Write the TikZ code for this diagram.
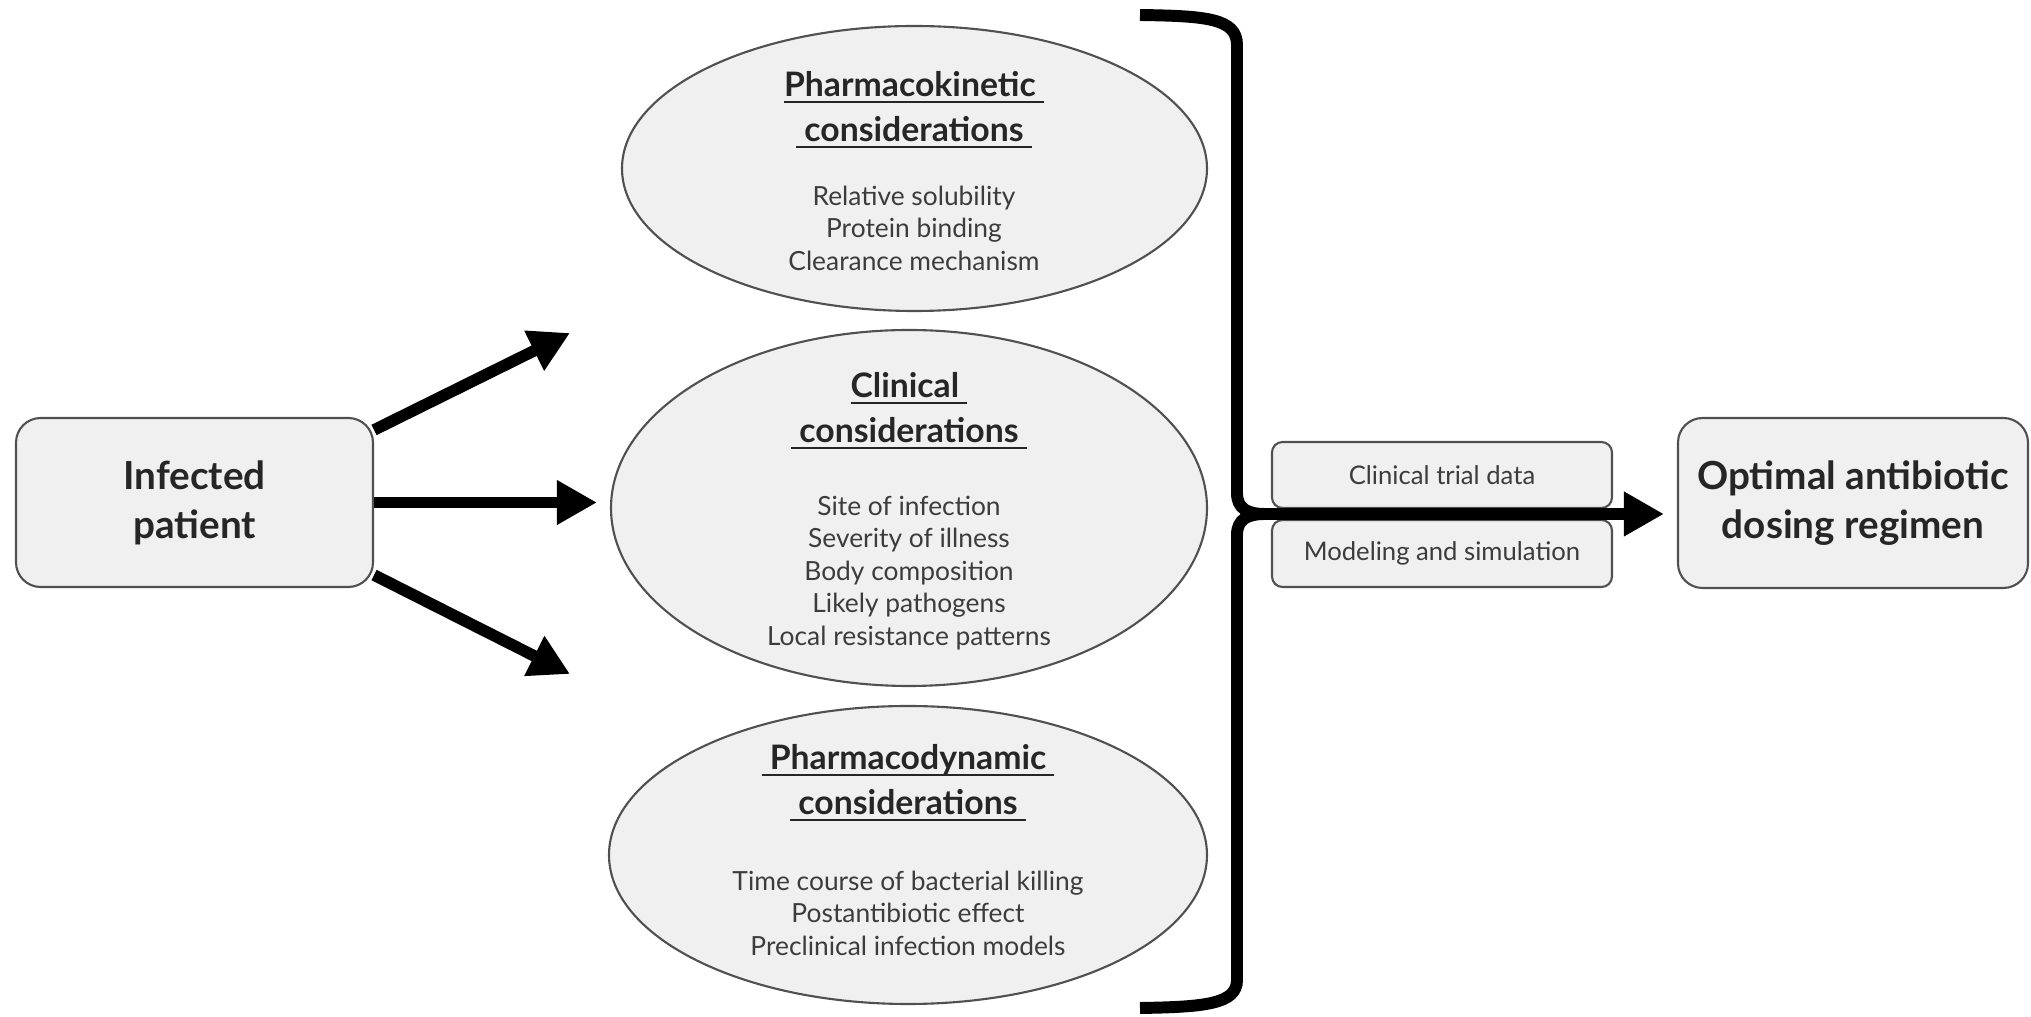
\documentclass[tikz,border=0pt]{standalone}
\usepackage{fontspec}
\setmainfont{Lato}
\usepackage{tikz}
\usetikzlibrary{shapes.geometric, arrows.meta, positioning, calc}
\definecolor{boxfill}{RGB}{240,240,240}
\definecolor{edgegray}{RGB}{80,80,80}
\definecolor{itemgray}{RGB}{60,60,60}
\newcommand{\ulhead}[1]{\underline{\smash{#1}}}

\begin{document}
\begin{tikzpicture}[
        box/.style={rectangle, rounded corners=7pt, draw=edgegray, fill=boxfill, line width=0.6pt, font=\fontsize{11}{14}\selectfont\bfseries, text=black!85, align=center},
        databox/.style={rectangle, rounded corners=3pt, draw=edgegray, fill=boxfill, line width=0.6pt, font=\fontsize{7.3}{9}\selectfont, text=itemgray, minimum width=3.4cm, align=center},
        oval/.style={ellipse, draw=edgegray, fill=boxfill, line width=0.6pt},
        heading/.style={font=\fontsize{9.6}{12.8}\selectfont\bfseries, text=black!85, align=center},
        items/.style={font=\fontsize{7.5}{9.25}\selectfont, text=itemgray, align=center},
        fat/.style={line width=3.3pt, -{Triangle[length=0.4cm, width=0.42cm]}}
    ]
        \useasboundingbox (0,0) rectangle (20.31,-10.17);

        % Patient and result boxes
        \node[box, minimum width=3.57cm, minimum height=1.69cm] (patient) at (1.945,-5.025) {Infected\\patient};
        \node[box, minimum width=3.50cm, minimum height=1.70cm] (optimal) at (18.53,-5.03) {Optimal antibiotic\\dosing regimen};

        % Considerations
        \node[oval, minimum width=5.85cm, minimum height=2.85cm] (pk) at (9.145,-1.685) {};
        \node[oval, minimum width=5.96cm, minimum height=3.56cm] (clin) at (9.09,-5.08) {};
        \node[oval, minimum width=5.98cm, minimum height=2.98cm] (pd) at (9.08,-8.55) {};

        \node[heading] (pkhead) at (9.14,-1.23) {\ulhead{Pharmacokinetic\ }\\\ulhead{\ considerations\ }};
        \node[items] (pkitems) at (9.14,-2.28) {Relative solubility\\Protein binding\\Clearance mechanism};
        \node[heading] (clinhead) at (9.09,-4.24) {\ulhead{Clinical\ }\\\ulhead{\ considerations\ }};
        \node[items] (clinitems) at (9.09,-5.73) {Site of infection\\Severity of illness\\Body composition\\Likely pathogens\\Local resistance patterns};
        \node[heading] (pdhead) at (9.08,-7.96) {\ulhead{\ Pharmacodynamic\ }\\\ulhead{\ considerations\ }};
        \node[items] (pditems) at (9.08,-9.13) {Time course of bacterial killing\\Postantibiotic effect\\Preclinical infection models};

        % Arrows out of the patient
        \coordinate (pkin) at (5.70,-3.33);
        \coordinate (pdin) at (5.70,-6.74);
        \draw[fat] (patient.22) -- (pkin);
        \draw[fat, shorten >=0.13cm] (patient.east) -- (patient.east -| clin.west);
        \draw[fat] (patient.-22) -- (pdin);

        % Data boxes
        \node[databox, minimum height=0.66cm] (trial) at (14.42,-4.75) {Clinical trial data};
        \node[databox, minimum height=0.67cm] (model) at (14.42,-5.535) {Modeling and simulation};

        % Bracket
        \coordinate (bracetip) at (12.65,-5.14);
        \draw[line width=3.4pt] (11.40,-0.15) .. controls (12.05,-0.16) and (12.37,-0.18) .. (12.37,-0.45)
            -- (12.37,-4.93) .. controls (12.37,-5.09) and (12.48,-5.14) .. (bracetip);
        \draw[line width=3.4pt] (11.40,-10.08) .. controls (12.05,-10.07) and (12.37,-10.04) .. (12.37,-9.80)
            -- (12.37,-5.35) .. controls (12.37,-5.19) and (12.48,-5.14) .. (bracetip);
        \draw[fat, shorten >=0.13cm] (bracetip) -- (bracetip -| optimal.west);
    \end{tikzpicture}
\end{document}
